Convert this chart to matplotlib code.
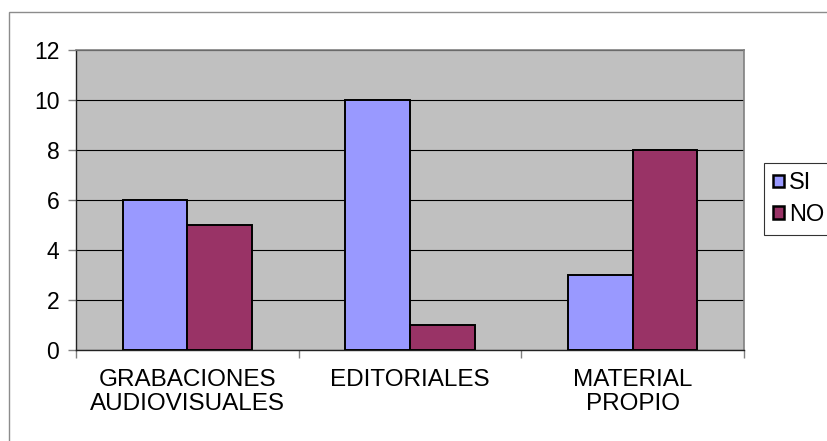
import matplotlib
matplotlib.use("Agg")
import matplotlib.pyplot as plt
from matplotlib.patches import Rectangle
import numpy as np

categories = ["GRABACIONES\nAUDIOVISUALES", "EDITORIALES", "MATERIAL\nPROPIO"]
si_values = [6, 10, 3]
no_values = [5, 1, 8]
series_names = ["SI", "NO"]
y_ticks = [0, 2, 4, 6, 8, 10, 12]

plt.rcParams['font.family'] = ['Liberation Sans', 'DejaVu Sans']

W, H = 828, 441
fig = plt.figure(figsize=(W / 100, H / 100), dpi=100)

# chart-area border
fig.patches.append(Rectangle((9 / W, -0.1), 1.2, (H - 12) / H + 0.1,
                             transform=fig.transFigure, fill=False,
                             edgecolor='#8c8c8c', linewidth=1.0))

ax = fig.add_axes([76 / W, (H - 350) / H, (744 - 76) / W, 300 / H])
ax.set_facecolor('#C0C0C0')

x = np.arange(len(categories))
bw = 0.29
b1 = ax.bar(x - bw / 2, si_values, bw, color='#9999FF', edgecolor='black',
            linewidth=1.4, label=series_names[0], zorder=3)
b2 = ax.bar(x + bw / 2, no_values, bw, color='#993366', edgecolor='black',
            linewidth=1.4, label=series_names[1], zorder=3)

ax.set_xlim(-0.5, len(categories) - 0.5)
ax.set_ylim(0, 12)
ax.set_yticks(y_ticks)
ax.set_yticklabels([str(v) for v in y_ticks], fontsize=16.5)
ax.yaxis.grid(True, color='black', linewidth=0.8, zorder=1)
ax.set_axisbelow(True)

ax.set_xticks(x)
ax.set_xticklabels(categories, fontsize=17.5, linespacing=1.1)
ax.tick_params(axis='x', length=0, pad=14)
ax.set_xticks(np.arange(-0.5, len(categories)), minor=True)
ax.tick_params(axis='x', which='minor', length=6, color='#808080', width=1)
ax.tick_params(axis='y', length=6, color='#808080', width=1, pad=6)

for s in ['top', 'right']:
    ax.spines[s].set_color('#808080')
    ax.spines[s].set_linewidth(1.2)
ax.spines['left'].set_color('#222222')
ax.spines['bottom'].set_color('#222222')
ax.spines['left'].set_linewidth(1.0)
ax.spines['bottom'].set_linewidth(1.0)

leg = fig.legend(handles=[b1, b2], labels=series_names,
                 loc='upper left', bbox_to_anchor=(764 / W, 1 - 163 / H),
                 fontsize=17, frameon=True, fancybox=False,
                 handlelength=0.45, handleheight=0.45, handletextpad=0.2,
                 borderpad=0.4, labelspacing=0.4, borderaxespad=0)
leg.get_frame().set_edgecolor('black')
leg.get_frame().set_linewidth(0.8)
for p in leg.get_patches():
    p.set_linewidth(1.8)

fig.savefig('out.png', dpi=100)
